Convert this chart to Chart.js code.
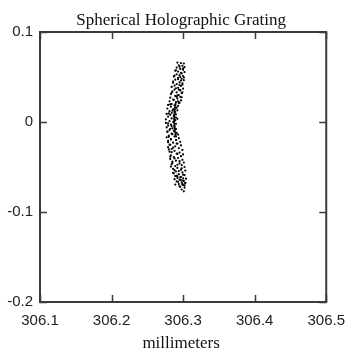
<!DOCTYPE html>
<html>
<head>
<meta charset="utf-8">
<script src="https://cdn.jsdelivr.net/npm/chart.js@4/dist/chart.umd.min.js"></script>
<style>
html,body{margin:0;padding:0;background:#fff;}
#wrap{width:355px;height:356px;position:relative;}
</style>
</head>
<body>
<div id="wrap"><canvas id="c" width="355" height="356"></canvas></div>
<script>
const chartTitle = "Spherical Holographic Grating";
const xAxisTitle = "millimeters";
const xTicks = [306.1, 306.2, 306.3, 306.4, 306.5];
const yTicks = [-0.2, -0.1, 0, 0.1];

const xValues = [
306.292,306.297,306.301,306.294,306.299,306.302,306.291,
306.296,306.300,306.289,306.293,306.302,306.298,306.291,306.295,306.300,306.287,
306.293,306.298,306.289,306.301,306.286,306.295,306.299,306.291,306.288,306.297,
306.284,306.293,306.300,306.288,306.296,306.285,306.291,306.298,306.283,306.294,
306.289,306.296,306.282,306.292,306.286,306.297,306.281,306.290,306.294,306.284,
306.279,306.288,306.293,306.283,306.291,306.278,306.286,306.292,306.281,306.289,306.284,
306.277,306.290,306.282,306.287,306.279,306.290,306.284,306.276,306.289,306.281,306.286,
306.276,306.290,306.283,306.279,306.288,306.277,306.285,306.290,306.281,306.287,
306.278,306.291,306.284,306.293,306.280,306.288,306.277,306.294,306.283,306.290,
306.279,306.296,306.286,306.292,306.281,306.297,306.289,306.279,306.294,306.284,306.299,
306.288,306.281,306.295,306.291,306.300,306.283,306.297,306.287,306.293,306.282,306.299,
306.290,306.285,306.301,306.295,306.284,306.298,306.289,306.302,306.292,306.286,306.297,
306.303,306.290,306.299,306.287,306.294,306.302,306.289,306.297,306.292,306.304,306.295,306.300,
306.291,306.298,306.303,306.294,306.300,306.296,306.302,306.298,306.301,
306.2895,306.2890,306.2885,306.2882,306.2880,306.2878,306.2877,306.2876,306.2875,306.2875,306.2876,
306.2877,306.2878,306.2880,306.2882,306.2885,306.2890,306.2895,306.2900,306.2905,306.2910,
306.296,306.297,306.295,306.294,306.299,306.291,306.293,
306.295,306.300,306.290,306.297,306.288,306.301,306.293,306.286,306.299,306.290,
306.296,306.284,306.292,306.298,306.287,306.295,306.282,306.290,306.285,306.280,
306.287,306.292,306.279,306.284,306.282,306.278,306.285,306.280,306.283,306.279,
306.282,306.286,306.280,306.284,306.292,306.282,306.288,306.295,306.285,306.292,
306.283,306.298,306.288,306.294,306.286,306.300,306.291,306.296,306.288,306.301,
306.293,306.299,306.289,306.302,306.295,306.292,306.300,306.297,306.303,306.299
];
const yValues = [
0.066,0.0655,0.065,0.063,0.0625,0.061,0.0605,
0.059,0.058,0.057,0.056,0.0555,0.054,0.053,0.052,0.051,0.0505,
0.049,0.048,0.047,0.0465,0.045,0.044,0.043,0.042,0.0405,0.040,
0.039,0.038,0.037,0.036,0.035,0.034,0.033,0.032,0.031,0.030,
0.029,0.028,0.027,0.026,0.025,0.024,0.023,0.022,0.021,0.020,
0.019,0.0185,0.018,0.017,0.016,0.015,0.014,0.013,0.012,0.011,0.010,
0.009,0.0085,0.008,0.007,0.006,0.005,0.004,0.003,0.002,0.001,0.000,
-0.001,-0.002,-0.003,-0.004,-0.005,-0.006,-0.007,-0.008,-0.009,-0.010,
-0.011,-0.012,-0.013,-0.014,-0.015,-0.016,-0.017,-0.018,-0.019,-0.020,
-0.021,-0.022,-0.023,-0.024,-0.025,-0.026,-0.027,-0.028,-0.029,-0.030,-0.031,
-0.032,-0.033,-0.034,-0.035,-0.036,-0.037,-0.038,-0.039,-0.040,-0.041,-0.042,
-0.043,-0.044,-0.045,-0.046,-0.047,-0.048,-0.049,-0.050,-0.051,-0.052,-0.053,
-0.054,-0.055,-0.056,-0.057,-0.058,-0.059,-0.060,-0.061,-0.062,-0.063,-0.064,-0.065,
-0.066,-0.067,-0.068,-0.069,-0.070,-0.072,-0.073,-0.075,-0.077,
0.020,0.018,0.016,0.014,0.012,0.010,0.008,0.006,0.004,0.002,0.000,
-0.002,-0.004,-0.006,-0.008,-0.010,-0.012,-0.014,-0.016,-0.020,-0.024,
0.050,0.046,0.041,0.036,0.033,0.028,0.023,
0.0615,0.0595,0.0575,0.0545,0.0515,0.0495,0.0475,0.0435,0.0415,0.0375,
0.0355,0.0325,0.0295,0.0275,0.0245,0.0215,0.0195,0.0155,0.0125,0.0095,
0.0065,0.0035,-0.0015,-0.0045,-0.0075,-0.0105,-0.0135,-0.0165,-0.0195,-0.0225,
-0.0255,-0.0285,-0.0305,-0.0335,-0.0355,-0.0385,-0.0405,-0.0435,-0.0455,-0.0475,
-0.0495,-0.0515,-0.0535,-0.0545,-0.0565,-0.0585,-0.0595,-0.0615,-0.0635,-0.0655,
-0.0665,-0.0685,-0.0695,-0.0705,-0.0715,-0.0605,-0.0625,-0.0645,-0.0675,-0.0695
];

const points = xValues.map((x, i) => ({ x: x, y: yValues[i] }));

const frameColor = '#3a3a3a';
const tickLen = 7;

const decor = {
  id: 'decor',
  afterDraw(chart) {
    const ctx = chart.ctx;
    const a = chart.chartArea;
    const xs = chart.scales.x, ys = chart.scales.y;
    ctx.save();
    ctx.strokeStyle = frameColor;
    ctx.lineWidth = 2;
    ctx.strokeRect(a.left, a.top, a.right - a.left, a.bottom - a.top);
    ctx.lineWidth = 1.5;
    ctx.beginPath();
    xTicks.forEach(v => {
      const px = Math.round(xs.getPixelForValue(v)) + 0.5;
      ctx.moveTo(px, a.bottom); ctx.lineTo(px, a.bottom - tickLen);
      ctx.moveTo(px, a.top); ctx.lineTo(px, a.top + tickLen);
    });
    yTicks.forEach(v => {
      const py = Math.round(ys.getPixelForValue(v)) + 0.5;
      ctx.moveTo(a.left, py); ctx.lineTo(a.left + tickLen, py);
      ctx.moveTo(a.right, py); ctx.lineTo(a.right - tickLen, py);
    });
    ctx.stroke();
    ctx.fillStyle = '#111';
    ctx.textAlign = 'center';
    ctx.textBaseline = 'middle';
    ctx.font = '17px "Liberation Serif", "Times New Roman", serif';
    ctx.fillText(chartTitle, (a.left + a.right) / 2 - 2, 21);
    ctx.font = '17px "Liberation Serif", "Times New Roman", serif';
    ctx.fillText(xAxisTitle, (a.left + a.right) / 2 - 2, 344);
    ctx.restore();
  }
};

new Chart(document.getElementById('c'), {
  type: 'scatter',
  data: {
    datasets: [{
      data: points,
      backgroundColor: '#000',
      borderColor: '#000',
      pointRadius: 1.1,
      pointHoverRadius: 1.1,
      borderWidth: 0
    }]
  },
  options: {
    responsive: false,
    animation: false,
    events: [],
    layout: { padding: { top: 32, right: 25, left: 0, bottom: 0 } },
    plugins: { legend: { display: false }, title: { display: false }, tooltip: { enabled: false } },
    scales: {
      x: {
        type: 'linear', min: 306.1, max: 306.5,
        afterBuildTicks: s => { s.ticks = xTicks.map(v => ({ value: v })); },
        afterFit: s => { s.height = 54; },
        grid: { display: false, drawTicks: false, tickLength: 0 },
        border: { display: false },
        ticks: {
          autoSkip: false, maxRotation: 0, padding: 10,
          color: '#222',
          font: { family: '"Liberation Sans", Arial, sans-serif', size: 15 },
          callback: v => Number(v).toFixed(1)
        }
      },
      y: {
        type: 'linear', min: -0.2, max: 0.1,
        afterBuildTicks: s => { s.ticks = yTicks.map(v => ({ value: v })); },
        afterFit: s => { s.width = 40; },
        grid: { display: false, drawTicks: false, tickLength: 0 },
        border: { display: false },
        ticks: {
          autoSkip: false, padding: 7,
          color: '#222',
          font: { family: '"Liberation Sans", Arial, sans-serif', size: 15 },
          callback: v => (Math.abs(v) < 1e-9 ? '0' : Number(v).toFixed(1))
        }
      }
    }
  },
  plugins: [decor]
});
</script>
</body>
</html>
